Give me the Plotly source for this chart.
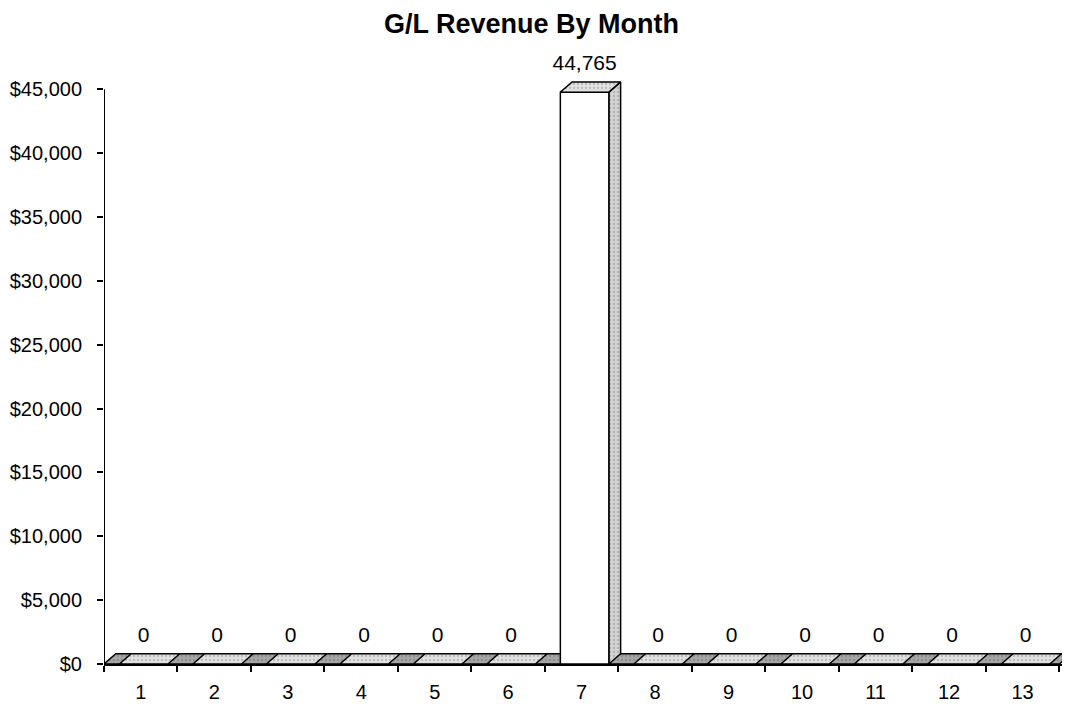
import plotly.graph_objects as go

months = [str(m) for m in range(1, 14)]
revenue = [0, 0, 0, 0, 0, 0, 44765, 0, 0, 0, 0, 0, 0]
y_ticks = [0, 5000, 10000, 15000, 20000, 25000, 30000, 35000, 40000, 45000]
y_tick_text = ["$0", "$5,000", "$10,000", "$15,000", "$20,000", "$25,000",
               "$30,000", "$35,000", "$40,000", "$45,000"]

FONT = "Liberation Sans, Arial, sans-serif"
BAR_W = 0.66      # front face width, in category units
DX = 0.16         # 3D depth, x (category units)
DY = 800          # 3D depth, y (data units)
OFF = 0.04
LABEL_GAP = 500

xs = list(range(1, len(months) + 1))


def poly(points):
    px_, py_ = [], []
    for x, y in points:
        px_.append(x)
        py_.append(y)
    px_.append(points[0][0])
    py_.append(points[0][1])
    px_.append(None)
    py_.append(None)
    return px_, py_


front_x, front_y, top_x, top_y, side_x, side_y = [], [], [], [], [], []
for c, v in zip(xs, revenue):
    x0 = c - BAR_W / 2 + OFF
    x1 = c + BAR_W / 2 + OFF
    if v > 0:
        a, b = poly([(x0, 0), (x1, 0), (x1, v), (x0, v)])
        front_x += a
        front_y += b
        a, b = poly([(x1, 0), (x1 + DX, DY), (x1 + DX, v + DY), (x1, v)])
        side_x += a
        side_y += b
    a, b = poly([(x0, v), (x1, v), (x1 + DX, v + DY), (x0 + DX, v + DY)])
    top_x += a
    top_y += b

floor_x, floor_y = poly([(0.5, 0), (13.5, 0), (13.5 + DX, DY), (0.5 + DX, DY)])

speckle = dict(shape=".", size=4, solidity=0.25)

fig = go.Figure()
fig.add_trace(go.Scatter(
    x=floor_x, y=floor_y, mode="lines", fill="toself",
    fillcolor="#9a9a9a", line=dict(color="black", width=1.5),
    fillpattern=dict(**speckle, bgcolor="#a6a6a6", fgcolor="#6f6f6f"),
    hoverinfo="skip",
))
fig.add_trace(go.Scatter(
    x=side_x, y=side_y, mode="lines", fill="toself",
    line=dict(color="black", width=1.5),
    fillpattern=dict(**speckle, bgcolor="#d4d4d4", fgcolor="#8a8a8a"),
    hoverinfo="skip",
))
fig.add_trace(go.Scatter(
    x=front_x, y=front_y, mode="lines", fill="toself",
    fillcolor="white", line=dict(color="black", width=1.5),
    hoverinfo="skip",
))
fig.add_trace(go.Scatter(
    x=top_x, y=top_y, mode="lines", fill="toself",
    line=dict(color="black", width=1.5),
    fillpattern=dict(**speckle, bgcolor="#e2e2e2", fgcolor="#8f8f8f"),
    hoverinfo="skip",
))
# data labels
fig.add_trace(go.Scatter(
    x=[c + OFF for c in xs], y=[v + DY + LABEL_GAP for v in revenue],
    mode="text", text=[f"{v:,}" for v in revenue],
    textposition="top center",
    textfont=dict(family=FONT, size=21, color="black"),
    cliponaxis=False, hoverinfo="skip",
))

# y axis line only up to the top tick
fig.add_shape(type="line", xref="x", yref="y", x0=0.5, x1=0.5, y0=0, y1=45000,
              line=dict(color="black", width=2))

# page body has an 8px margin, so the figure is 8px smaller each way
fig.update_layout(
    title=dict(text="<b>G/L Revenue By Month</b>", x=0.493, xanchor="center",
               y=0.992, yanchor="top",
               font=dict(family=FONT, size=27, color="black")),
    width=1062, height=701,
    paper_bgcolor="white", plot_bgcolor="white",
    showlegend=False,
    margin=dict(l=96, r=7, t=62, b=45, autoexpand=False),
    font=dict(family=FONT, size=20, color="black"),
)
fig.update_xaxes(
    range=[0.5, 13.55], tickvals=xs, ticktext=months, ticks="",
    showgrid=False, zeroline=False, showline=True, linecolor="black", linewidth=2,
    ticklabelstandoff=9, automargin=False,
    minor=dict(tickvals=[c + 0.5 for c in range(0, 14)], ticks="outside",
               ticklen=6, tickcolor="black", tickwidth=1.5, showgrid=False),
    tickfont=dict(family=FONT, size=20, color="black"),
)
fig.update_yaxes(
    range=[0, 46500], tickvals=y_ticks, ticktext=y_tick_text,
    ticks="outside", ticklen=6, tickcolor="black", tickwidth=1.5,
    ticklabelstandoff=11, automargin=False,
    showgrid=False, zeroline=False, showline=False,
    tickfont=dict(family=FONT, size=20, color="black"),
)

fig.write_html("out.html")
